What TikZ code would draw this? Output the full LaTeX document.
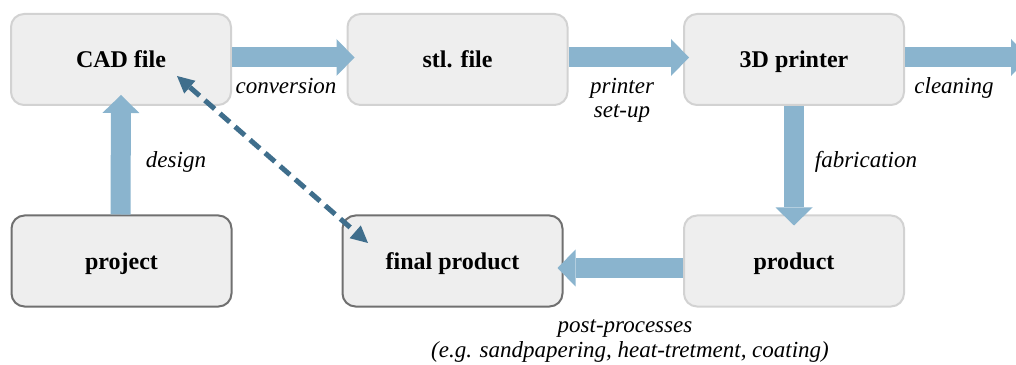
\documentclass[tikz,border=0pt]{standalone}
\usepackage{fontspec}
\setmainfont{Liberation Serif}
\usetikzlibrary{arrows.meta,calc}
\definecolor{boxfill}{HTML}{EEEEEE}
\definecolor{lightedge}{HTML}{D2D2D2}
\definecolor{darkedge}{HTML}{707070}
\definecolor{flowblue}{HTML}{8AB4CE}
\definecolor{dashblue}{HTML}{3F6E8C}
\begin{document}
\begin{tikzpicture}[x=1pt,y=1pt,
 box/.style={rounded corners=13pt, fill=boxfill, line width=2pt, minimum width=220pt, minimum height=91pt, font=\fontsize{24}{28}\selectfont\bfseries, text height=16pt, text depth=0pt, inner sep=0pt},
 lbox/.style={box, draw=lightedge},
 dbox/.style={box, draw=darkedge},
 flow/.style={flowblue, line width=20pt, -{Triangle[length=18pt,width=37pt,line width=0pt]}},
 dashflow/.style={dashblue, line width=5pt, dash pattern=on 13pt off 7pt, {Triangle[length=17pt,width=17pt,line width=0pt]}-{Triangle[length=17pt,width=17pt,line width=0pt]}},
 lab/.style={font=\fontsize{23}{25}\selectfont\itshape, anchor=base, inner sep=0pt}
]
\useasboundingbox (0,0) rectangle (1016,364);
\clip (0,0) rectangle (1016,364);
\node[lbox] (cad) at (121,304.5) {CAD file};
\node[lbox] (stl) at (457.5,304.5) {stl. file};
\node[lbox] (printer) at (794,304.5) {3D printer};
\node[dbox] (project) at (121.5,103) {project};
\node[dbox] (final) at (452.5,103) {final product};
\node[lbox] (product) at (794,103) {product};
\coordinate (exit) at (1029,306.5);
\coordinate (d1) at (177,288);
\coordinate (d2) at (368,121);

\draw[flow] ($(cad.east)+(0,2)$) -- ($(stl.west)+(8,2)$);
\draw[flow] ($(stl.east)+(0,2)$) -- ($(printer.west)+(6,2)$);
\draw[flow] ($(printer.east)+(0,2)$) -- (exit);
\draw[flow] (printer.south) -- ($(product.north)+(0,-11)$);
\draw[flow] ($(project.north)+(-1,0)$) -- ($(cad.south)+(0,11)$);
\draw[flow] ($(product.west)+(0,-7)$) -- ($(final.east)+(-6,-7)$);
\draw[dashflow] (d1) -- (d2);

\node[lab] at (286,270) {conversion};
\node[lab] at (622,270) {printer};
\node[lab] at (622,246) {set-up};
\node[lab] at (954,270) {cleaning};
\node[lab] at (176,196) {design};
\node[lab] at (866,196) {fabrication};
\node[lab] at (625,32) {post-processes};
\node[lab] at (630,7) {(e.g. sandpapering, heat-tretment, coating)};
\end{tikzpicture}
\end{document}
